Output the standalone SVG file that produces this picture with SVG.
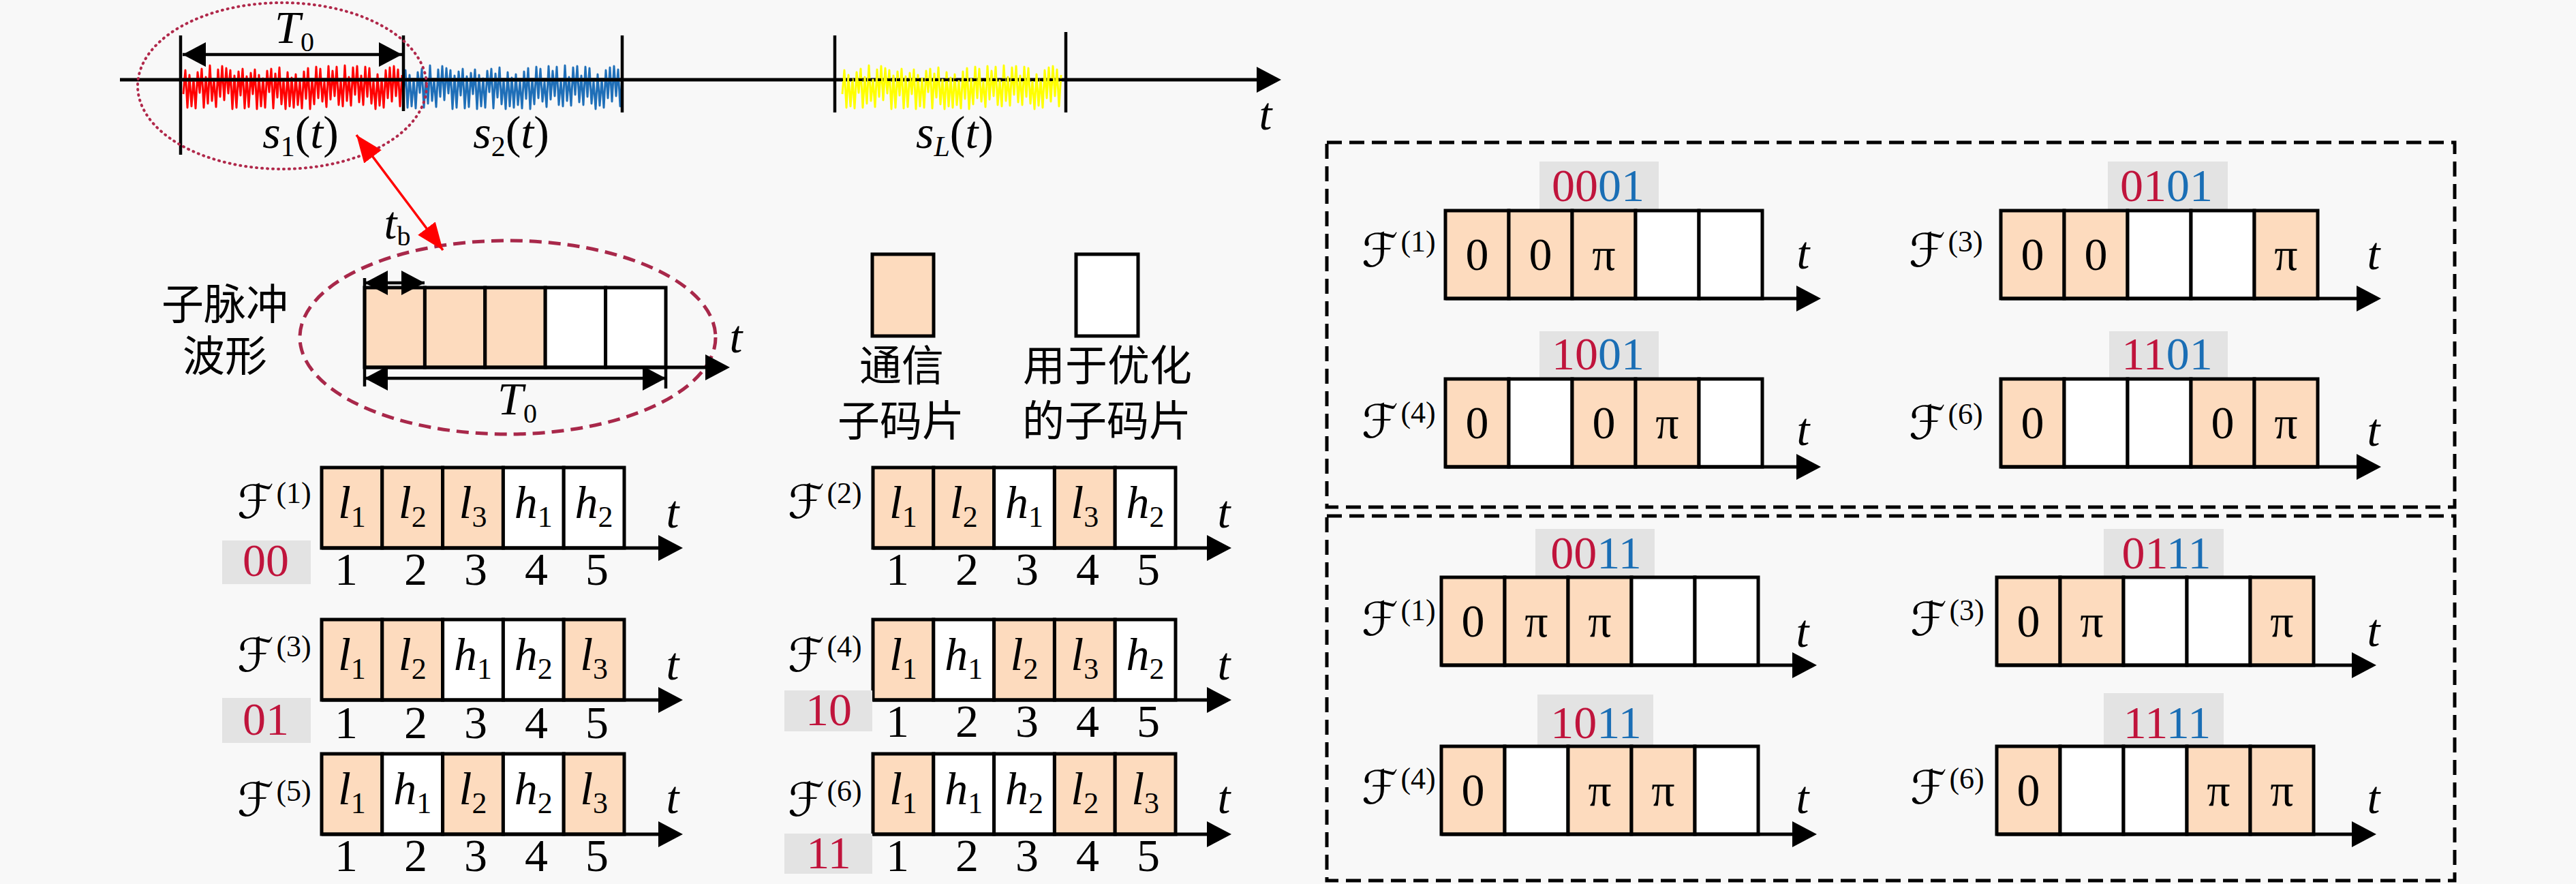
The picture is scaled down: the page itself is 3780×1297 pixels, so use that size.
<svg xmlns="http://www.w3.org/2000/svg" xmlns:xlink="http://www.w3.org/1999/xlink" width="3780" height="1297" viewBox="0 0 3780 1297">
<defs>
<style>
.ax{stroke:#000;stroke-width:5;fill:none}
.tk{stroke:#000;stroke-width:4.5;fill:none}
.c{stroke:#000;stroke-width:5}
.p{fill:#FDDBBE}
.w{fill:#FFFFFF}
.g{fill:#E3E3E3}
.m{font-family:"Liberation Serif","DejaVu Serif",serif;font-size:68px;fill:#000}
.i{font-style:italic}
.cal{font-family:"DejaVu Sans","DejaVu Serif",serif;font-style:normal}
.ct{text-anchor:middle}
.zh{font-family:"Noto Sans CJK SC",sans-serif;font-size:62px;fill:#000;text-anchor:middle}
.code{font-family:"Liberation Serif",serif;font-size:68px;text-anchor:middle}
.r{fill:#C0143C}
.b{fill:#1A6EB5}
.sig{fill:none;stroke-width:3;stroke-linejoin:round}
</style>
<marker id="ah" viewBox="0 0 36 38" refX="30" refY="19" markerWidth="36" markerHeight="38" markerUnits="userSpaceOnUse" orient="auto"><path d="M0,0 L36,19 L0,38 Z" fill="#000"/></marker>
<marker id="dh" viewBox="0 0 34 36" refX="34" refY="18" markerWidth="34" markerHeight="36" markerUnits="userSpaceOnUse" orient="auto-start-reverse"><path d="M0,0 L34,18 L0,36 Z" fill="#000"/></marker>
<marker id="rh" viewBox="0 0 40 32" refX="40" refY="16" markerWidth="40" markerHeight="32" markerUnits="userSpaceOnUse" orient="auto-start-reverse"><path d="M0,0 L40,16 L0,32 Z" fill="#FF0000"/></marker>
<path id="sig" d="M0,10 L3,-25 6,30 9,-18 12,28 15,-12 18,31 21,-22 24,8 27,-27 30,30 33,-15 36,24 39,-32 42,20 45,-11 48,29 51,-26 54,14 57,-31 60,19 63,-28 66,9 69,-25 72,32 75,-17 78,30 81,-23 84,12 87,-27 90,31 93,-16 96,29 99,-21 102,10 105,-26 108,32 111,-18 114,28 117,-13 120,30 123,-24 126,7 129,-27 132,31 135,-20 138,15 141,-29 144,25 147,-11 150,32 153,-22 156,28 159,-14 162,30 165,-19 168,26 171,-9 174,31 177,-23 180,17 183,-28 186,32 189,-12 192,25 195,-30 198,16 201,-27 204,21 207,-8 210,29 213,-31 216,18 219,-24 222,13 225,-30 228,26 231,-10 234,28 237,-32 240,20 243,-15 246,27 249,-29 252,11 255,-31 258,22 261,-17 264,26 267,-30 270,14 273,-28 276,24 279,-9 282,32 285,-19 288,27 291,-12 294,30 297,-25 300,16 303,-29 306,21 309,-31 312,13 315,-26 318,28 321,-18"/>
</defs>
<rect x="0" y="0" width="3780" height="1297" fill="#F8F8F8"/>

<g id="signal-axis">
<line class="ax" x1="176" y1="117" x2="1874" y2="117" marker-end="url(#ah)"/>
<use xlink:href="#sig" href="#sig" class="sig" stroke="#FF0000" transform="translate(269,128)"/>
<use xlink:href="#sig" href="#sig" class="sig" stroke="#1F6FB8" transform="translate(592,128)"/>
<use xlink:href="#sig" href="#sig" class="sig" stroke="#FFFF00" transform="translate(1236,128)"/>
<line class="ax" x1="268" y1="117" x2="913" y2="117" stroke-width="4"/>
<line x1="1232" y1="117" x2="1562" y2="117" stroke="#000" stroke-width="4" stroke-dasharray="5 9"/>
<line class="tk" x1="265" y1="52" x2="265" y2="227"/>
<line class="tk" x1="592" y1="52" x2="592" y2="163"/>
<line class="tk" x1="913" y1="52" x2="913" y2="165"/>
<line class="tk" x1="1225" y1="52" x2="1225" y2="165"/>
<line class="tk" x1="1564" y1="47" x2="1564" y2="165"/>
<line class="tk" x1="268" y1="80" x2="590" y2="80" marker-start="url(#dh)" marker-end="url(#dh)"/>
<text class="m ct" x="432" y="63" font-size="60"><tspan class="i">T</tspan><tspan font-size="40" dy="12">0</tspan></text>
<text class="m ct" x="441" y="217" font-size="64"><tspan class="i">s</tspan><tspan font-size="42" dy="12">1</tspan><tspan dy="-12">(</tspan><tspan class="i">t</tspan>)</text>
<text class="m ct" x="750" y="217" font-size="64"><tspan class="i">s</tspan><tspan font-size="42" dy="12">2</tspan><tspan dy="-12">(</tspan><tspan class="i">t</tspan>)</text>
<text class="m ct" x="1401" y="217" font-size="64"><tspan class="i">s</tspan><tspan class="i" font-size="42" dy="12">L</tspan><tspan dy="-12">(</tspan><tspan class="i">t</tspan>)</text>
<text class="m ct i" x="1857" y="190" font-size="66">t</text>
<ellipse cx="414" cy="126" rx="212" ry="122" fill="none" stroke="#B0284A" stroke-width="4" stroke-dasharray="1 7" stroke-linecap="round"/>
</g>

<g id="subpulse">
<ellipse cx="745" cy="495" rx="305" ry="142" fill="none" stroke="#A8284A" stroke-width="5" stroke-dasharray="18 10"/>
<rect class="c p" x="535" y="422" width="88.4" height="117"/>
<rect class="c p" x="623.4" y="422" width="88.4" height="117"/>
<rect class="c p" x="711.8" y="422" width="88.4" height="117"/>
<rect class="c w" x="800.2" y="422" width="88.4" height="117"/>
<rect class="c w" x="888.6" y="422" width="88.4" height="117"/>
<line class="ax" x1="535" y1="539" x2="1065" y2="539" marker-end="url(#ah)"/>
<line class="tk" x1="535" y1="408" x2="535" y2="567"/>
<line class="tk" x1="977" y1="539" x2="977" y2="570"/>
<line class="tk" x1="535" y1="415" x2="623" y2="415" marker-start="url(#dh)" marker-end="url(#dh)"/>
<line class="tk" x1="535" y1="555" x2="977" y2="555" marker-start="url(#dh)" marker-end="url(#dh)"/>
<text class="m ct" x="583" y="350" font-size="64"><tspan class="i">t</tspan><tspan font-size="40" dy="10">b</tspan></text>
<text class="m ct" x="759" y="608" font-size="62"><tspan class="i">T</tspan><tspan font-size="40" dy="12">0</tspan></text>
<text class="m ct i" x="1080" y="517" font-size="66">t</text>
<text class="zh" x="330" y="469" font-size="64">子脉冲</text>
<text class="zh" x="330" y="545" font-size="64">波形</text>
</g>

<g id="legend">
<rect class="c p" x="1280" y="373" width="90" height="120"/>
<rect class="c w" x="1579" y="373" width="91" height="120"/>
<text class="zh" x="1323" y="559">通信</text>
<text class="zh" x="1322" y="640">子码片</text>
<text class="zh" x="1625" y="559">用于优化</text>
<text class="zh" x="1624" y="640">的子码片</text>
</g>

<g id="row-F1">
<rect class="c p" x="472" y="686" width="88.8" height="118"/>
<rect class="c p" x="560.8" y="686" width="88.8" height="118"/>
<rect class="c p" x="649.6" y="686" width="88.8" height="118"/>
<rect class="c w" x="738.4" y="686" width="88.8" height="118"/>
<rect class="c w" x="827.2" y="686" width="88.8" height="118"/>
<line class="ax" x1="472" y1="804" x2="996" y2="804" marker-end="url(#ah)"/>
<text class="m ct" x="516.4" y="760"><tspan class="i">l</tspan><tspan font-size="44" dy="13">1</tspan></text>
<text class="m ct" x="605.2" y="760"><tspan class="i">l</tspan><tspan font-size="44" dy="13">2</tspan></text>
<text class="m ct" x="694" y="760"><tspan class="i">l</tspan><tspan font-size="44" dy="13">3</tspan></text>
<text class="m ct" x="782.8" y="760"><tspan class="i">h</tspan><tspan font-size="44" dy="13">1</tspan></text>
<text class="m ct" x="871.6" y="760"><tspan class="i">h</tspan><tspan font-size="44" dy="13">2</tspan></text>
<text class="m ct i" x="987" y="774" font-size="66">t</text>
<text class="m ct" y="858" font-size="66"><tspan x="508">1</tspan><tspan x="610">2</tspan><tspan x="698">3</tspan><tspan x="787">4</tspan><tspan x="876">5</tspan></text>
<text class="m" x="348" y="760" font-size="64"><tspan class="cal">ℱ</tspan><tspan font-size="44" dy="-22" dx="4">(1)</tspan></text>
<rect class="g" x="326" y="793" width="130" height="64"/>
<text class="code r" x="390" y="845" font-size="66">00</text>
</g>

<g id="row-F3">
<rect class="c p" x="472" y="909" width="88.8" height="118"/>
<rect class="c p" x="560.8" y="909" width="88.8" height="118"/>
<rect class="c w" x="649.6" y="909" width="88.8" height="118"/>
<rect class="c w" x="738.4" y="909" width="88.8" height="118"/>
<rect class="c p" x="827.2" y="909" width="88.8" height="118"/>
<line class="ax" x1="472" y1="1027" x2="996" y2="1027" marker-end="url(#ah)"/>
<text class="m ct" x="516.4" y="983"><tspan class="i">l</tspan><tspan font-size="44" dy="13">1</tspan></text>
<text class="m ct" x="605.2" y="983"><tspan class="i">l</tspan><tspan font-size="44" dy="13">2</tspan></text>
<text class="m ct" x="694" y="983"><tspan class="i">h</tspan><tspan font-size="44" dy="13">1</tspan></text>
<text class="m ct" x="782.8" y="983"><tspan class="i">h</tspan><tspan font-size="44" dy="13">2</tspan></text>
<text class="m ct" x="871.6" y="983"><tspan class="i">l</tspan><tspan font-size="44" dy="13">3</tspan></text>
<text class="m ct i" x="987" y="997" font-size="66">t</text>
<text class="m ct" y="1083" font-size="66"><tspan x="508">1</tspan><tspan x="610">2</tspan><tspan x="698">3</tspan><tspan x="787">4</tspan><tspan x="876">5</tspan></text>
<text class="m" x="348" y="985" font-size="64"><tspan class="cal">ℱ</tspan><tspan font-size="44" dy="-22" dx="4">(3)</tspan></text>
<rect class="g" x="326" y="1024" width="130" height="66"/>
<text class="code r" x="390" y="1078" font-size="66">01</text>
</g>

<g id="row-F5">
<rect class="c p" x="472" y="1106" width="88.8" height="118"/>
<rect class="c w" x="560.8" y="1106" width="88.8" height="118"/>
<rect class="c p" x="649.6" y="1106" width="88.8" height="118"/>
<rect class="c w" x="738.4" y="1106" width="88.8" height="118"/>
<rect class="c p" x="827.2" y="1106" width="88.8" height="118"/>
<line class="ax" x1="472" y1="1224" x2="996" y2="1224" marker-end="url(#ah)"/>
<text class="m ct" x="516.4" y="1180"><tspan class="i">l</tspan><tspan font-size="44" dy="13">1</tspan></text>
<text class="m ct" x="605.2" y="1180"><tspan class="i">h</tspan><tspan font-size="44" dy="13">1</tspan></text>
<text class="m ct" x="694" y="1180"><tspan class="i">l</tspan><tspan font-size="44" dy="13">2</tspan></text>
<text class="m ct" x="782.8" y="1180"><tspan class="i">h</tspan><tspan font-size="44" dy="13">2</tspan></text>
<text class="m ct" x="871.6" y="1180"><tspan class="i">l</tspan><tspan font-size="44" dy="13">3</tspan></text>
<text class="m ct i" x="987" y="1193" font-size="66">t</text>
<text class="m ct" y="1278" font-size="66"><tspan x="508">1</tspan><tspan x="610">2</tspan><tspan x="698">3</tspan><tspan x="787">4</tspan><tspan x="876">5</tspan></text>
<text class="m" x="348" y="1197" font-size="64"><tspan class="cal">ℱ</tspan><tspan font-size="44" dy="-22" dx="4">(5)</tspan></text>
</g>

<g id="row-F2">
<rect class="c p" x="1281" y="686" width="88.8" height="118"/>
<rect class="c p" x="1369.8" y="686" width="88.8" height="118"/>
<rect class="c w" x="1458.6" y="686" width="88.8" height="118"/>
<rect class="c p" x="1547.4" y="686" width="88.8" height="118"/>
<rect class="c w" x="1636.2" y="686" width="88.8" height="118"/>
<line class="ax" x1="1281" y1="804" x2="1801" y2="804" marker-end="url(#ah)"/>
<text class="m ct" x="1325.4" y="760"><tspan class="i">l</tspan><tspan font-size="44" dy="13">1</tspan></text>
<text class="m ct" x="1414.2" y="760"><tspan class="i">l</tspan><tspan font-size="44" dy="13">2</tspan></text>
<text class="m ct" x="1503" y="760"><tspan class="i">h</tspan><tspan font-size="44" dy="13">1</tspan></text>
<text class="m ct" x="1591.8" y="760"><tspan class="i">l</tspan><tspan font-size="44" dy="13">3</tspan></text>
<text class="m ct" x="1680.6" y="760"><tspan class="i">h</tspan><tspan font-size="44" dy="13">2</tspan></text>
<text class="m ct i" x="1796" y="774" font-size="66">t</text>
<text class="m ct" y="858" font-size="66"><tspan x="1317">1</tspan><tspan x="1419">2</tspan><tspan x="1507">3</tspan><tspan x="1596">4</tspan><tspan x="1685">5</tspan></text>
<text class="m" x="1156" y="760" font-size="64"><tspan class="cal">ℱ</tspan><tspan font-size="44" dy="-22" dx="4">(2)</tspan></text>
</g>

<g id="row-F4">
<rect class="c p" x="1281" y="909" width="88.8" height="118"/>
<rect class="c w" x="1369.8" y="909" width="88.8" height="118"/>
<rect class="c p" x="1458.6" y="909" width="88.8" height="118"/>
<rect class="c p" x="1547.4" y="909" width="88.8" height="118"/>
<rect class="c w" x="1636.2" y="909" width="88.8" height="118"/>
<line class="ax" x1="1281" y1="1027" x2="1801" y2="1027" marker-end="url(#ah)"/>
<text class="m ct" x="1325.4" y="983"><tspan class="i">l</tspan><tspan font-size="44" dy="13">1</tspan></text>
<text class="m ct" x="1414.2" y="983"><tspan class="i">h</tspan><tspan font-size="44" dy="13">1</tspan></text>
<text class="m ct" x="1503" y="983"><tspan class="i">l</tspan><tspan font-size="44" dy="13">2</tspan></text>
<text class="m ct" x="1591.8" y="983"><tspan class="i">l</tspan><tspan font-size="44" dy="13">3</tspan></text>
<text class="m ct" x="1680.6" y="983"><tspan class="i">h</tspan><tspan font-size="44" dy="13">2</tspan></text>
<text class="m ct i" x="1796" y="997" font-size="66">t</text>
<text class="m ct" y="1081" font-size="66"><tspan x="1317">1</tspan><tspan x="1419">2</tspan><tspan x="1507">3</tspan><tspan x="1596">4</tspan><tspan x="1685">5</tspan></text>
<text class="m" x="1156" y="985" font-size="64"><tspan class="cal">ℱ</tspan><tspan font-size="44" dy="-22" dx="4">(4)</tspan></text>
<rect class="g" x="1151" y="1013" width="129" height="60"/>
<text class="code r" x="1216" y="1064" font-size="66">10</text>
</g>

<g id="row-F6">
<rect class="c p" x="1281" y="1106" width="88.8" height="118"/>
<rect class="c w" x="1369.8" y="1106" width="88.8" height="118"/>
<rect class="c w" x="1458.6" y="1106" width="88.8" height="118"/>
<rect class="c p" x="1547.4" y="1106" width="88.8" height="118"/>
<rect class="c p" x="1636.2" y="1106" width="88.8" height="118"/>
<line class="ax" x1="1281" y1="1224" x2="1801" y2="1224" marker-end="url(#ah)"/>
<text class="m ct" x="1325.4" y="1180"><tspan class="i">l</tspan><tspan font-size="44" dy="13">1</tspan></text>
<text class="m ct" x="1414.2" y="1180"><tspan class="i">h</tspan><tspan font-size="44" dy="13">1</tspan></text>
<text class="m ct" x="1503" y="1180"><tspan class="i">h</tspan><tspan font-size="44" dy="13">2</tspan></text>
<text class="m ct" x="1591.8" y="1180"><tspan class="i">l</tspan><tspan font-size="44" dy="13">2</tspan></text>
<text class="m ct" x="1680.6" y="1180"><tspan class="i">l</tspan><tspan font-size="44" dy="13">3</tspan></text>
<text class="m ct i" x="1796" y="1193" font-size="66">t</text>
<text class="m ct" y="1278" font-size="66"><tspan x="1317">1</tspan><tspan x="1419">2</tspan><tspan x="1507">3</tspan><tspan x="1596">4</tspan><tspan x="1685">5</tspan></text>
<text class="m" x="1156" y="1197" font-size="64"><tspan class="cal">ℱ</tspan><tspan font-size="44" dy="-22" dx="4">(6)</tspan></text>
<rect class="g" x="1151" y="1223" width="129" height="59"/>
<text class="code r" x="1216" y="1274" font-size="66">11</text>
</g>

<g id="box-xx01">
<rect x="1947" y="209" width="1655" height="535" fill="none" stroke="#000" stroke-width="5" stroke-dasharray="22 11"/>
<g id="b1-F1">
<rect class="g" x="2259" y="237" width="175" height="72"/>
<text class="code" x="2345" y="295"><tspan class="r">00</tspan><tspan class="b">01</tspan></text>
<rect class="c p" x="2121" y="309" width="93" height="129"/>
<rect class="c p" x="2214" y="309" width="93" height="129"/>
<rect class="c p" x="2307" y="309" width="93" height="129"/>
<rect class="c w" x="2400" y="309" width="93" height="129"/>
<rect class="c w" x="2493" y="309" width="93" height="129"/>
<line class="ax" x1="2121" y1="438" x2="2666" y2="438" marker-end="url(#ah)"/>
<text class="m ct" font-size="70" y="396"><tspan x="2167.5">0</tspan><tspan x="2260.5">0</tspan><tspan x="2353.5">π</tspan></text>
<text class="m ct i" x="2646" y="394" font-size="66">t</text>
<text class="m" x="1998" y="391" font-size="64"><tspan class="cal">ℱ</tspan><tspan font-size="44" dy="-22" dx="4">(1)</tspan></text>
</g>
<g id="b1-F4">
<rect class="g" x="2259" y="486" width="175" height="70"/>
<text class="code" x="2345" y="542"><tspan class="r">10</tspan><tspan class="b">01</tspan></text>
<rect class="c p" x="2121" y="556" width="93" height="129"/>
<rect class="c w" x="2214" y="556" width="93" height="129"/>
<rect class="c p" x="2307" y="556" width="93" height="129"/>
<rect class="c p" x="2400" y="556" width="93" height="129"/>
<rect class="c w" x="2493" y="556" width="93" height="129"/>
<line class="ax" x1="2121" y1="685" x2="2666" y2="685" marker-end="url(#ah)"/>
<text class="m ct" font-size="70" y="643"><tspan x="2167.5">0</tspan><tspan x="2353.5">0</tspan><tspan x="2446.5">π</tspan></text>
<text class="m ct i" x="2646" y="653" font-size="66">t</text>
<text class="m" x="1998" y="642" font-size="64"><tspan class="cal">ℱ</tspan><tspan font-size="44" dy="-22" dx="4">(4)</tspan></text>
</g>
<g id="b1-F3">
<rect class="g" x="3093" y="237" width="176" height="72"/>
<text class="code" x="3179" y="295"><tspan class="r">01</tspan><tspan class="b">01</tspan></text>
<rect class="c p" x="2936" y="309" width="93" height="129"/>
<rect class="c p" x="3029" y="309" width="93" height="129"/>
<rect class="c w" x="3122" y="309" width="93" height="129"/>
<rect class="c w" x="3215" y="309" width="93" height="129"/>
<rect class="c p" x="3308" y="309" width="93" height="129"/>
<line class="ax" x1="2936" y1="438" x2="3488" y2="438" marker-end="url(#ah)"/>
<text class="m ct" font-size="70" y="396"><tspan x="2982.5">0</tspan><tspan x="3075.5">0</tspan><tspan x="3354.5">π</tspan></text>
<text class="m ct i" x="3483" y="395" font-size="66">t</text>
<text class="m" x="2801" y="391" font-size="64"><tspan class="cal">ℱ</tspan><tspan font-size="44" dy="-22" dx="4">(3)</tspan></text>
</g>
<g id="b1-F6">
<rect class="g" x="3095" y="486" width="174" height="70"/>
<text class="code" x="3180" y="542"><tspan class="r">11</tspan><tspan class="b">01</tspan></text>
<rect class="c p" x="2936" y="556" width="93" height="129"/>
<rect class="c w" x="3029" y="556" width="93" height="129"/>
<rect class="c w" x="3122" y="556" width="93" height="129"/>
<rect class="c p" x="3215" y="556" width="93" height="129"/>
<rect class="c p" x="3308" y="556" width="93" height="129"/>
<line class="ax" x1="2936" y1="685" x2="3488" y2="685" marker-end="url(#ah)"/>
<text class="m ct" font-size="70" y="643"><tspan x="2982.5">0</tspan><tspan x="3261.5">0</tspan><tspan x="3354.5">π</tspan></text>
<text class="m ct i" x="3483" y="654" font-size="66">t</text>
<text class="m" x="2801" y="644" font-size="64"><tspan class="cal">ℱ</tspan><tspan font-size="44" dy="-22" dx="4">(6)</tspan></text>
</g>
</g>

<g id="box-xx11">
<rect x="1947" y="757" width="1655" height="535" fill="none" stroke="#000" stroke-width="5" stroke-dasharray="22 11"/>
<g id="b2-F1">
<rect class="g" x="2253" y="776" width="175" height="71"/>
<text class="code" x="2342" y="834"><tspan class="r">00</tspan><tspan class="b">11</tspan></text>
<rect class="c p" x="2115" y="847" width="93" height="129"/>
<rect class="c p" x="2208" y="847" width="93" height="129"/>
<rect class="c p" x="2301" y="847" width="93" height="129"/>
<rect class="c w" x="2394" y="847" width="93" height="129"/>
<rect class="c w" x="2487" y="847" width="93" height="129"/>
<line class="ax" x1="2115" y1="976" x2="2660" y2="976" marker-end="url(#ah)"/>
<text class="m ct" font-size="70" y="934"><tspan x="2161.5">0</tspan><tspan x="2254.5">π</tspan><tspan x="2347.5">π</tspan></text>
<text class="m ct i" x="2645" y="949" font-size="66">t</text>
<text class="m" x="1998" y="932" font-size="64"><tspan class="cal">ℱ</tspan><tspan font-size="44" dy="-22" dx="4">(1)</tspan></text>
</g>
<g id="b2-F4">
<rect class="g" x="2256" y="1019" width="170" height="76"/>
<text class="code" x="2342" y="1083"><tspan class="r">10</tspan><tspan class="b">11</tspan></text>
<rect class="c p" x="2115" y="1095" width="93" height="129"/>
<rect class="c w" x="2208" y="1095" width="93" height="129"/>
<rect class="c p" x="2301" y="1095" width="93" height="129"/>
<rect class="c p" x="2394" y="1095" width="93" height="129"/>
<rect class="c w" x="2487" y="1095" width="93" height="129"/>
<line class="ax" x1="2115" y1="1224" x2="2660" y2="1224" marker-end="url(#ah)"/>
<text class="m ct" font-size="70" y="1182"><tspan x="2161.5">0</tspan><tspan x="2347.5">π</tspan><tspan x="2440.5">π</tspan></text>
<text class="m ct i" x="2645" y="1193" font-size="66">t</text>
<text class="m" x="1998" y="1179" font-size="64"><tspan class="cal">ℱ</tspan><tspan font-size="44" dy="-22" dx="4">(4)</tspan></text>
</g>
<g id="b2-F3">
<rect class="g" x="3087" y="776" width="176" height="71"/>
<text class="code" x="3179" y="834"><tspan class="r">01</tspan><tspan class="b">11</tspan></text>
<rect class="c p" x="2930" y="847" width="93" height="129"/>
<rect class="c p" x="3023" y="847" width="93" height="129"/>
<rect class="c w" x="3116" y="847" width="93" height="129"/>
<rect class="c w" x="3209" y="847" width="93" height="129"/>
<rect class="c p" x="3302" y="847" width="93" height="129"/>
<line class="ax" x1="2930" y1="976" x2="3481" y2="976" marker-end="url(#ah)"/>
<text class="m ct" font-size="70" y="934"><tspan x="2976.5">0</tspan><tspan x="3069.5">π</tspan><tspan x="3348.5">π</tspan></text>
<text class="m ct i" x="3483" y="948" font-size="66">t</text>
<text class="m" x="2803" y="932" font-size="64"><tspan class="cal">ℱ</tspan><tspan font-size="44" dy="-22" dx="4">(3)</tspan></text>
</g>
<g id="b2-F6">
<rect class="g" x="3087" y="1017" width="176" height="78"/>
<text class="code" x="3180" y="1083"><tspan class="r">11</tspan><tspan class="b">11</tspan></text>
<rect class="c p" x="2930" y="1095" width="93" height="129"/>
<rect class="c w" x="3023" y="1095" width="93" height="129"/>
<rect class="c w" x="3116" y="1095" width="93" height="129"/>
<rect class="c p" x="3209" y="1095" width="93" height="129"/>
<rect class="c p" x="3302" y="1095" width="93" height="129"/>
<line class="ax" x1="2930" y1="1224" x2="3481" y2="1224" marker-end="url(#ah)"/>
<text class="m ct" font-size="70" y="1182"><tspan x="2976.5">0</tspan><tspan x="3255.5">π</tspan><tspan x="3348.5">π</tspan></text>
<text class="m ct i" x="3483" y="1193" font-size="66">t</text>
<text class="m" x="2803" y="1179" font-size="64"><tspan class="cal">ℱ</tspan><tspan font-size="44" dy="-22" dx="4">(6)</tspan></text>
</g>
</g>

<g id="connectors">
<line x1="523" y1="198" x2="650" y2="367" stroke="#FF0000" stroke-width="3.5" marker-start="url(#rh)" marker-end="url(#rh)"/>
</g>
</svg>
